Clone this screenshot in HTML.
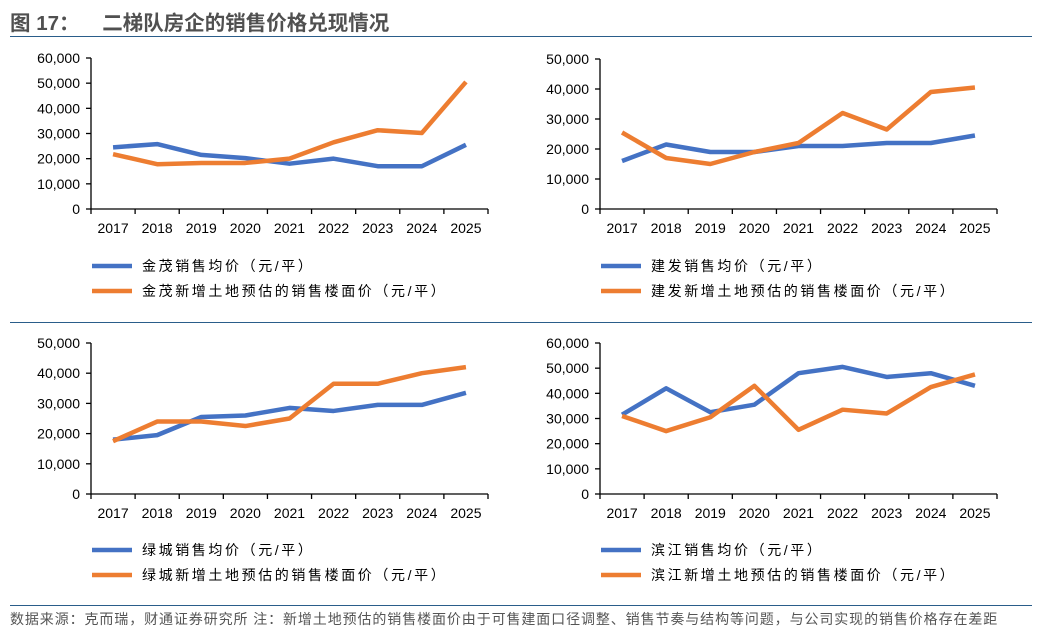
<!DOCTYPE html>
<html><head><meta charset="utf-8">
<style>
body{margin:0;width:1045px;height:637px;background:#fff;font-family:"Liberation Sans","Noto Sans CJK SC",sans-serif;overflow:hidden;position:relative}
#title{position:absolute;left:10px;top:6px;font-size:20.5px;font-weight:bold;color:#505050;font-family:"Liberation Sans","Noto Sans CJK SC",sans-serif}
.hl{position:absolute;left:10px;width:1022px;height:1px;background:#2a5d8a}
#foot{position:absolute;left:10px;top:609px;font-size:14px;color:#555;letter-spacing:0.9px;white-space:nowrap}
svg{position:absolute;left:0;top:0}
</style></head><body>
<div id="title">图 17：&nbsp;&nbsp;&nbsp;&nbsp;二梯队房企的销售价格兑现情况</div>
<div class="hl" style="top:36px"></div>
<div class="hl" style="top:322px"></div>
<div class="hl" style="top:605px"></div>
<div id="foot">数据来源：克而瑞，财通证券研究所 注：新增土地预估的销售楼面价由于可售建面口径调整、销售节奏与结构等问题，与公司实现的销售价格存在差距</div>
<svg id="chart" width="1045" height="637" xmlns="http://www.w3.org/2000/svg"></svg>
<script>
const years=["2017","2018","2019","2020","2021","2022","2023","2024","2025"];
const jinmaoAvg=[24500,25800,21500,20200,18000,20000,17000,17000,25500];
const jinmaoLand=[21800,17800,18300,18300,20000,26500,31300,30200,50500];
const jianfaAvg=[16000,21500,19000,19000,21000,21000,22000,22000,24500];
const jianfaLand=[25500,17000,15000,19000,22000,32000,26500,39000,40500];
const lvchengAvg=[18000,19500,25500,26000,28500,27500,29500,29500,33500];
const lvchengLand=[17500,24000,24000,22500,25000,36500,36500,40000,42000];
const binjiangAvg=[31500,42000,32500,35500,48000,50500,46500,48000,43000];
const binjiangLand=[31000,25000,30500,43000,25500,33500,32000,42500,47500];
const yTicks60=[0,10000,20000,30000,40000,50000,60000];
const yTicks50=[0,10000,20000,30000,40000,50000];
const panels=[
 {name:"jinmao",x0:91,x1:488,y0:209,y1:58,max:60000,ticks:yTicks60,a:jinmaoAvg,b:jinmaoLand,la:"金茂销售均价（元/平）",lb:"金茂新增土地预估的销售楼面价（元/平）",ly:266},
 {name:"jianfa",x0:600,x1:997,y0:209,y1:59,max:50000,ticks:yTicks50,a:jianfaAvg,b:jianfaLand,la:"建发销售均价（元/平）",lb:"建发新增土地预估的销售楼面价（元/平）",ly:266},
 {name:"lvcheng",x0:91,x1:488,y0:494,y1:343,max:50000,ticks:yTicks50,a:lvchengAvg,b:lvchengLand,la:"绿城销售均价（元/平）",lb:"绿城新增土地预估的销售楼面价（元/平）",ly:550},
 {name:"binjiang",x0:600,x1:997,y0:494,y1:343,max:60000,ticks:yTicks60,a:binjiangAvg,b:binjiangLand,la:"滨江销售均价（元/平）",lb:"滨江新增土地预估的销售楼面价（元/平）",ly:550}
];
const svg=document.getElementById('chart');
const NS="http://www.w3.org/2000/svg";
function mk(t,at,parent){const e=document.createElementNS(NS,t);for(const k in at)e.setAttribute(k,at[k]);(parent||svg).appendChild(e);return e;}
const fmt=v=>v.toLocaleString('en-US');
panels.forEach(p=>{
 const g=mk('g',{});
 
 
 const step=(p.x1-p.x0)/years.length;
 const X=i=>p.x0+step*(i+0.5);
 const Y=v=>p.y0-(p.y0-p.y1)*v/p.max;
 const ya=mk('line',{x1:p.x0,y1:p.y1,x2:p.x0,y2:p.y0,stroke:'#000','stroke-width':1.3},g);
 
 
 p.ticks.forEach(t=>{
  mk('line',{x1:p.x0-5,x2:p.x0,y1:Y(t),y2:Y(t),stroke:'#000','stroke-width':1.3},g);
  const tx=mk('text',{x:p.x0-11,y:Y(t)+5,'text-anchor':'end','font-size':14,fill:'#000'},g);
  tx.textContent=fmt(t);
  
  
 });
 const xa=mk('line',{x1:p.x0,y1:p.y0,x2:p.x1,y2:p.y0,stroke:'#000','stroke-width':1.3},g);
 
 
 for(let i=0;i<=years.length;i++){mk('line',{x1:p.x0+step*i,x2:p.x0+step*i,y1:p.y0,y2:p.y0+5,stroke:'#000','stroke-width':1.3},g);}
 years.forEach((y,i)=>{
  const tx=mk('text',{x:X(i),y:p.y0+24,'text-anchor':'middle','font-size':14,fill:'#000'},g);
  tx.textContent=y;
  
  
 });
 [[p.a,'#4472C4',p.la,0],[p.b,'#ED7D31',p.lb,1]].forEach(([arr,c,lab,k])=>{
  const pl=mk('polyline',{points:arr.map((v,i)=>X(i)+','+Y(v)).join(' '),fill:'none',stroke:c,'stroke-width':4.5,'stroke-linejoin':'round'},g);
  
  
  const ly=p.ly+k*25;
  const lg=mk('g',{},g);
  
  
  mk('line',{x1:p.x0+1,x2:p.x0+41,y1:ly,y2:ly,stroke:c,'stroke-width':4.5},lg);
  const t=mk('text',{x:p.x0+51,y:ly+5,'font-size':14,fill:'#000','letter-spacing':'2.6'},lg);
  t.textContent=lab;
 });
});
</script>
</body></html>
